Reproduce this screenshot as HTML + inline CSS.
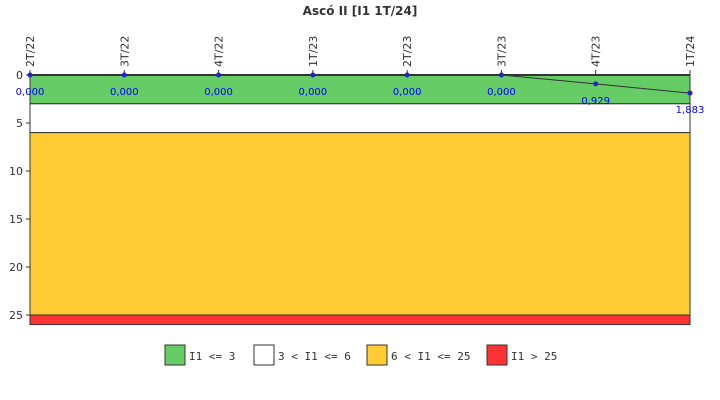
<!DOCTYPE html>
<html><head><meta charset="utf-8"><style>
body{margin:0;background:#fff;}
svg{display:block;font-family:"DejaVu Sans","Liberation Sans",sans-serif;}
</style></head><body>
<svg id="c" width="720" height="400">
<text x="360" y="15" text-anchor="middle" font-size="12" font-weight="bold" fill="#333">Ascó II [I1 1T/24]</text>
<g id="bands"></g><g id="axes"></g><g id="series"></g><g id="legend"></g>
</svg>
<script>
const categories=["2T/22","3T/22","4T/22","1T/23","2T/23","3T/23","4T/23","1T/24"];
const values=[0,0,0,0,0,0,0.929,1.883];
const valueLabels=["0,000","0,000","0,000","0,000","0,000","0,000","0,929","1,883"];
const yTicks=[0,5,10,15,20,25];
const bandLimits=[0,3,6,25,26];
const bandColors=["#66cc66","#ffffff","#ffcc33","#ff3333"];
const legendLabels=["I1 <= 3","3 < I1 <= 6","6 < I1 <= 25","I1 > 25"];
const NS="http://www.w3.org/2000/svg";
const x0=30,x1=690,y0=75,pxPerUnit=9.6;
const xs=i=>x0+i*(x1-x0)/(categories.length-1);
const ys=v=>y0+v*pxPerUnit;
function mk(tag,attrs,parent,text){const e=document.createElementNS(NS,tag);for(const k in attrs)e.setAttribute(k,attrs[k]);if(text!==undefined)e.textContent=text;document.getElementById(parent).appendChild(e);return e;}
for(let i=0;i<bandColors.length;i++){
 const r=mk("rect",{x:x0,y:ys(bandLimits[i]),width:x1-x0,height:ys(bandLimits[i+1])-ys(bandLimits[i]),fill:bandColors[i],stroke:"#333","stroke-width":1},"bands");
 
 
}
const ax=mk("line",{x1:x0,y1:y0,x2:x1,y2:y0,stroke:"#333","stroke-width":2},"axes");


yTicks.forEach(t=>{
 mk("line",{x1:x0-4,y1:ys(t),x2:x0,y2:ys(t),stroke:"#333"},"axes");
 const tl=mk("text",{x:x0-7,y:ys(t)+4,"text-anchor":"end","font-size":11,fill:"#333"},"axes",t);
 
 
});
categories.forEach((c,i)=>{
 mk("line",{x1:xs(i),y1:y0-5,x2:xs(i),y2:y0,stroke:"#333"},"axes");
 const t=mk("text",{x:0,y:0,"font-size":11,fill:"#333",transform:`translate(${xs(i)+4},${y0-8}) rotate(-90)`},"axes",c);
 
 
});
const pl=mk("polyline",{points:values.map((v,i)=>xs(i)+","+ys(v)).join(" "),fill:"none",stroke:"#333","stroke-width":1},"series");


values.forEach((v,i)=>{
 const p=mk("circle",{cx:xs(i),cy:ys(v),r:2.5,fill:"#2222cc"},"series");
 
 
 const l=mk("text",{x:xs(i),y:ys(v)+20,"text-anchor":"middle","font-size":10,fill:"#0000ff"},"series",valueLabels[i]);
 
 
});
const lx=[165,254,367,487];
legendLabels.forEach((s,i)=>{
 const b=mk("rect",{x:lx[i],y:345,width:20,height:20,fill:bandColors[i],stroke:"#333"},"legend");
 
 
 const t=mk("text",{x:lx[i]+24,y:360,"font-size":11,fill:"#333","font-family":"DejaVu Sans Mono,monospace"},"legend",s);
 
 
});
</script>
</body></html>
